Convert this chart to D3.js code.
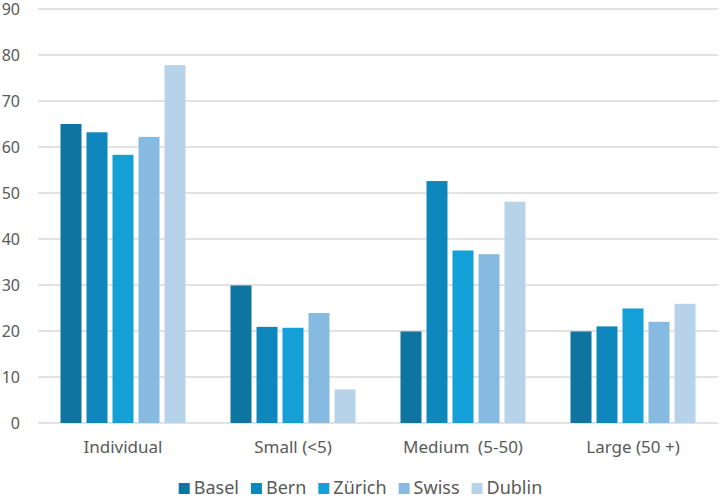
<!DOCTYPE html>
<html>
<head>
<meta charset="utf-8">
<script src="https://cdn.jsdelivr.net/npm/d3@7"></script>
<style>
  html, body { margin: 0; padding: 0; background: #fff; }
  svg text { font-family: "Noto Sans", "Open Sans", sans-serif; fill: #595959; }
</style>
</head>
<body>
<svg id="chart" width="721" height="498"></svg>
<script>
// data
const categories = ['Individual', 'Small (<5)', 'Medium  (5-50)', 'Large (50 +)'];
const seriesNames = ['Basel', 'Bern', 'Zürich', 'Swiss', 'Dublin'];
const basel  = [65.0, 29.9, 19.9, 19.9];
const bern   = [63.2, 20.9, 52.6, 21.0];
const zurich = [58.3, 20.7, 37.5, 24.9];
const swiss  = [62.2, 23.9, 36.7, 22.0];
const dublin = [77.8, 7.3, 48.1, 25.9];
const yTicks = [0, 10, 20, 30, 40, 50, 60, 70, 80, 90];

const seriesValues = [basel, bern, zurich, swiss, dublin];
const colors = ['#0E74A0', '#0E88BC', '#12A0D7', '#86BAE0', '#B7D3EA'];

const W = 721, H = 498;
const margin = { top: 9, right: 3, bottom: 75, left: 38 };

const svg = d3.select('#chart');

const x0 = d3.scaleBand()
  .domain(categories)
  .range([margin.left, W - margin.right])
  .paddingInner(0)
  .paddingOuter(0);

// bars occupy 125 of 170 px per group
const innerPad = (x0.bandwidth() - 125) / 2;
const x1 = d3.scaleBand()
  .domain(seriesNames)
  .range([innerPad, x0.bandwidth() - innerPad])
  .paddingInner(5 / 26)
  .paddingOuter(0);

const y = d3.scaleLinear()
  .domain([0, 90])
  .range([H - margin.bottom, margin.top]);

// gridlines
svg.append('g')
  .selectAll('line')
  .data(yTicks)
  .enter().append('line')
  .attr('x1', margin.left)
  .attr('x2', W - margin.right)
  .attr('y1', d => y(d))
  .attr('y2', d => y(d))
  .attr('stroke', '#d9d9d9')
  .attr('stroke-width', 1.5);

// y labels
const yAxis = d3.axisLeft(y).tickValues(yTicks).tickSize(0).tickPadding(0);
const yg = svg.append('g')
  .attr('transform', `translate(${margin.left - 18},0)`)
  .call(yAxis);
yg.select('.domain').remove();
yg.selectAll('text')
  .style('font-size', '16px')
  .attr('fill', '#595959')
  .attr('dy', '0.35em');

// bars
const groups = svg.append('g')
  .selectAll('g')
  .data(categories)
  .enter().append('g')
  .attr('transform', d => `translate(${x0(d)},0)`);

groups.selectAll('rect')
  .data((d, i) => seriesNames.map((s, j) => ({ s, v: seriesValues[j][i], j })))
  .enter().append('rect')
  .attr('x', d => x1(d.s))
  .attr('width', x1.bandwidth())
  .attr('y', d => y(d.v))
  .attr('height', d => y(0) - y(d.v))
  .attr('fill', d => colors[d.j]);

// x labels
const xAxis = d3.axisBottom(x0).tickSize(0).tickPadding(0);
const xg = svg.append('g')
  .attr('transform', `translate(0,${y(0) + 18})`)
  .call(xAxis);
xg.select('.domain').remove();
xg.selectAll('text')
  .style('font-size', '17px')
  .attr('fill', '#595959')
  .attr('dy', '0.71em')
  .style('white-space', 'pre');

// legend
const legend = svg.append('g');
let lx = 0;
seriesNames.forEach((name, i) => {
  const it = legend.append('g');
  it.append('rect')
    .attr('x', 0).attr('y', -11)
    .attr('width', 11).attr('height', 11)
    .attr('fill', colors[i]);
  const t = it.append('text')
    .attr('x', 15).attr('y', 0)
    .style('font-size', '18px')
    .text(name);
  const w = 15 + t.node().getComputedTextLength();
  it.attr('transform', `translate(${lx},0)`);
  lx += w + 12;
});
const legendW = lx - 12;
legend.attr('transform', `translate(${(W - legendW) / 2},${494})`);
</script>
</body>
</html>
